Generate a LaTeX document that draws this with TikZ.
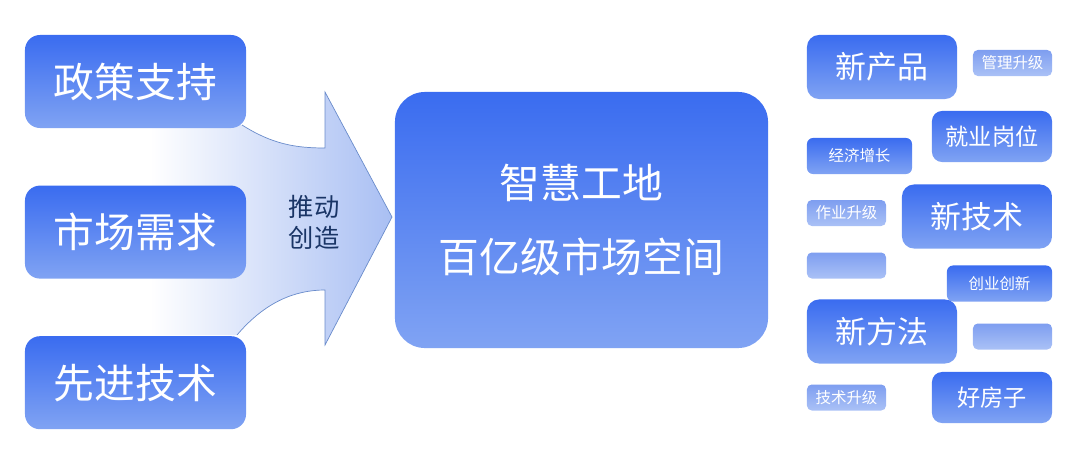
\documentclass[tikz,border=0pt]{standalone}
\usepackage{fontspec}
\setmainfont{Noto Sans CJK SC}
\usetikzlibrary{positioning}

\definecolor{boxtop}{HTML}{3A6CF0}
\definecolor{boxbot}{HTML}{80A3F3}
\definecolor{tagtop}{HTML}{7E9EF0}
\definecolor{tagbot}{HTML}{AAC1F6}
\definecolor{arrowfill}{HTML}{A9BFF3}
\definecolor{arrowline}{HTML}{6A8CCB}
\definecolor{pushtext}{HTML}{1A3566}

\begin{document}
\begin{tikzpicture}[x=0.025cm, y=-0.025cm,
    bluebox/.style={top color=boxtop, bottom color=boxbot, text=white, inner sep=0pt, align=center},
    srcbox/.style={bluebox, rounded corners=0.375cm, minimum width=5.525cm, minimum height=2.325cm, font=\fontsize{29}{35}\selectfont},
    goalbox/.style={bluebox, rounded corners=0.75cm, minimum width=9.325cm, minimum height=6.4cm, font=\fontsize{29}{53}\selectfont},
    bigtag/.style={bluebox, rounded corners=0.3cm, minimum width=3.75cm, minimum height=1.6cm, font=\fontsize{22}{26}\selectfont},
    midtag/.style={bluebox, rounded corners=0.25cm, minimum width=3cm, minimum height=1.275cm, font=\fontsize{16.5}{20}\selectfont},
    smalltag/.style={bluebox, rounded corners=0.15cm, minimum width=2.625cm, minimum height=0.9cm, font=\fontsize{11}{13}\selectfont},
    lighttag/.style={top color=tagtop, bottom color=tagbot, text=white, inner sep=0pt, rounded corners=0.12cm, minimum width=1.975cm, minimum height=0.65cm, font=\fontsize{11}{13}\selectfont}]
    \useasboundingbox (0,0) rectangle (1080,461);
    % Big arrow behind the three sources
    \path[left color=white, right color=arrowfill]
        (150,128) -- (242,125) .. controls (272,144) and (295,148) .. (325,148)
        -- (325,92) -- (392,217) -- (325,345) -- (325,290)
        .. controls (295,290) and (265,302) .. (237,335) -- (150,335) -- cycle;
    \draw[arrowline, line width=0.5pt]
        (242,125) .. controls (272,144) and (295,148) .. (325,148)
        -- (325,92) -- (392,217) -- (325,345) -- (325,290)
        .. controls (295,290) and (265,302) .. (237,335);
    \node[text=pushtext, align=center, font=\fontsize{18}{22}\selectfont] (push) at (314,222) {推动\\创造};
    % Sources
    \node[srcbox] (policy) at (135.5,81.5) {政策支持};
    \node[srcbox, below=1.425cm of policy] (demand) {市场需求};
    \node[srcbox, below=1.425cm of demand] (tech) {先进技术};
    % Goal
    \node[goalbox] (goal) at (581.5,220) {智慧工地\\百亿级市场空间};
    % Outcomes
    \node[bigtag] (newprod) at (882,67) {新产品};
    \node[lighttag] (mgmt) at (1012.5,63) {管理升级};
    \node[midtag] (jobs) at (992,136.5) {就业岗位};
    \node[smalltag] (econ) at (859.5,156) {经济增长};
    \node[lighttag] (ops) at (846.5,213) {作业升级};
    \node[bigtag] (newtech) at (977,216.5) {新技术};
    \node[lighttag] (blankA) at (846.5,265.5) {};
    \node[smalltag] (startup) at (999.5,283.5) {创业创新};
    \node[bigtag] (newmeth) at (882,331.5) {新方法};
    \node[lighttag] (blankB) at (1012.5,336.5) {};
    \node[lighttag] (techup) at (846.5,397.5) {技术升级};
    \node[midtag] (house) at (992,397.5) {好房子};
\end{tikzpicture}
\end{document}
